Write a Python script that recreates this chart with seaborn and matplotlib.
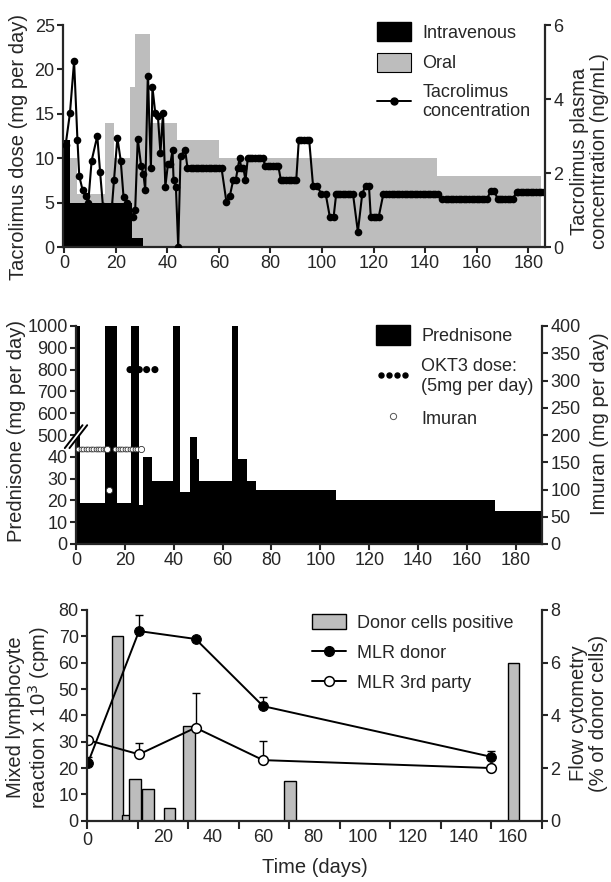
import numpy as np
import matplotlib
matplotlib.use("Agg")
import matplotlib.pyplot as plt
import seaborn as sns
from matplotlib.patches import Patch
from matplotlib.lines import Line2D
from matplotlib.legend_handler import HandlerLine2D

sns.set_style("ticks")
plt.rcParams['font.family'] = ['Liberation Sans', 'DejaVu Sans']
plt.rcParams['axes.linewidth'] = 1.6

# ---------------- Panel 1: tacrolimus ----------------
iv_start = [0.0, 2.2, 26.2]
iv_end = [2.2, 26.2, 30.4]
iv_dose = [12, 5, 1]

oral_start = [2.2, 4.8, 15.8, 19.3, 25.5, 27.5, 33.2, 43.6, 60.0, 144.5]
oral_end = [4.8, 15.8, 19.3, 25.5, 27.5, 33.2, 43.6, 60.0, 144.5, 185.0]
oral_dose = [10, 6, 14, 10, 18, 24, 14, 12, 10, 8]

conc_days = [0.5, 2.2, 3.8, 5.1, 5.8, 7.1, 8.3, 9.3, 10.6, 12.8, 13.9, 15.0, 18.5,
             19.3, 20.6, 21.9, 23.0, 24.5, 26.6, 27.5, 28.5, 29.8, 30.7, 31.4,
             32.4, 33.6, 34.2, 35.3, 36.3, 37.3, 38.3, 39.2, 40.2, 41.1, 42.0,
             42.4, 43.3, 44.2, 45.1, 46.9, 47.8,
             49, 50, 51, 52, 53, 54, 55, 56, 57, 58, 59, 60, 61,
             62.9, 64.2, 65.5, 66.5, 67.3, 68.0, 68.7, 69.5, 70.3, 71.2,
             72, 73, 74, 75, 76, 77, 78, 79, 80, 81, 82, 83,
             84, 85, 86, 87, 88, 89, 90, 91, 92, 93, 94, 95,
             96.5, 98.0, 99.7, 101.4, 103.0, 104.5, 105.5,
             106, 107, 108, 109, 110, 111, 112, 113.9, 115.6, 116.9, 118.2,
             118.9, 120, 121, 122, 123.8,
             125, 126, 127, 128, 129, 130, 131, 132, 133, 134, 135, 136, 137,
             138, 139, 140, 141, 142, 143, 144, 145,
             146.7, 148, 149, 150, 151, 152, 153, 154, 155, 156, 157, 158, 159,
             160, 161, 162, 163, 164, 165.5, 166.8, 168.1,
             169, 170, 171, 172, 173, 174, 175.6,
             176, 177, 178, 179, 180, 181, 182, 183, 184, 185, 186]
conc_vals = [2.75, 3.62, 5.02, 2.90, 1.92, 1.54, 1.37, 1.20, 2.33, 3.00, 2.02, 1.10, 1.10,
             1.82, 2.95, 2.33, 1.34, 1.20, 0.82, 1.00, 2.93, 2.20, 1.97, 1.54,
             4.63, 2.14, 4.32, 3.62, 3.55, 2.54, 3.62, 1.63, 2.23, 2.23, 2.62,
             1.80, 1.63, 0.00, 2.47, 2.62, 2.13,
             2.13, 2.13, 2.13, 2.13, 2.13, 2.13, 2.13, 2.13, 2.13, 2.13, 2.13, 2.13, 2.13,
             1.22, 1.37, 1.80, 1.80, 2.13, 2.40, 2.13, 2.13, 1.80, 2.40,
             2.40, 2.40, 2.40, 2.40, 2.40, 2.40, 2.20, 2.20, 2.20, 2.20, 2.20, 2.20,
             1.82, 1.82, 1.82, 1.82, 1.82, 1.82, 1.82, 2.90, 2.90, 2.90, 2.90, 2.90,
             1.66, 1.66, 1.44, 1.44, 0.82, 0.82, 1.44,
             1.44, 1.44, 1.44, 1.44, 1.44, 1.44, 1.44, 0.41, 1.44, 1.66, 1.66,
             0.82, 0.82, 0.82, 0.82, 1.44,
             1.44, 1.44, 1.44, 1.44, 1.44, 1.44, 1.44, 1.44, 1.44, 1.44, 1.44, 1.44, 1.44,
             1.44, 1.44, 1.44, 1.44, 1.44, 1.44, 1.44, 1.44,
             1.30, 1.30, 1.30, 1.30, 1.30, 1.30, 1.30, 1.30, 1.30, 1.30, 1.30, 1.30, 1.30,
             1.30, 1.30, 1.30, 1.30, 1.30, 1.52, 1.52, 1.30,
             1.30, 1.30, 1.30, 1.30, 1.30, 1.30, 1.50,
             1.50, 1.50, 1.50, 1.50, 1.50, 1.50, 1.50, 1.50, 1.50, 1.50, 1.50]

# ---------------- Panel 2: prednisone / OKT3 / imuran ----------------
pred_start = [0, 1.6, 11.9, 16.6, 22.5, 25.8, 27.5, 31.0, 39.8, 42.5, 46.6, 49.4,
              50.5, 63.7, 66.4, 70.1, 73.6, 106.5, 171.4]
pred_end = [1.6, 11.9, 16.6, 22.5, 25.8, 27.5, 31.0, 39.8, 42.5, 46.6, 49.4, 50.5,
            63.7, 66.4, 70.1, 73.6, 106.5, 171.4, 190.7]
pred_dose = [1000, 19, 1000, 19, 1000, 18, 40, 29, 1000, 24, 49, 39, 29, 1000,
             39, 29, 25, 20, 15]

okt3_days = [22.1, 24.1, 25.9, 28.9, 32.3]
okt3_level = [800, 800, 800, 800, 800]

imuran_days = [1, 2, 3, 4, 5, 6, 7, 8, 9, 10, 11, 12,
               16, 17, 18, 19, 20, 21, 22, 23, 24, 25]
imuran_mg = [175] * 22
imuran_big_days = [12.5, 26.6, 13.5]
imuran_big_mg = [175, 175, 100]

# ---------------- Panel 3: MLR / flow cytometry ----------------
flow_days = [1.7, 5.7, 8.7, 14.0, 22.6, 30.3, 70.8, 160.1]
flow_pct = [7.0, 0.2, 1.6, 1.2, 0.5, 3.6, 1.5, 6.0]

mlr_days = [-10.0, 10.4, 33.0, 60.0, 151.0]
mlr_donor = [22.0, 72.0, 69.0, 43.5, 24.3]
mlr_donor_err = [2.0, 6.0, 0.0, 3.5, 2.0]
mlr_third = [30.6, 25.2, 35.3, 23.0, 20.0]
mlr_third_err = [0.0, 4.2, 13.3, 7.3, 0.0]

GRAY = '#bdbdbd'
FS_TICK = 13
FS_LAB = 14.5
FS_LEG = 13

W, H = 611, 882
fig = plt.figure(figsize=(W / 100, H / 100), dpi=100)


def px_axes(l, r, t, b):
    return fig.add_axes([l / W, 1 - b / H, (r - l) / W, (b - t) / H])


def style_left(ax):
    ax.spines['top'].set_visible(False)
    ax.spines['right'].set_visible(False)
    ax.tick_params(direction='out', length=4, width=1.5, labelsize=FS_TICK, pad=2)


def style_right(axr):
    for s in ['top', 'left', 'bottom']:
        axr.spines[s].set_visible(False)
    axr.tick_params(direction='out', length=4, width=1.5, labelsize=FS_TICK, pad=2)


def place_ylabel(ax, x, y):
    ax.yaxis.set_label_coords(x, y)
    ax.yaxis.label.set_verticalalignment('center')
    ax.yaxis.label.set_horizontalalignment('center')


# ======== Panel 1 ========
ax1 = px_axes(63, 545, 25, 247)
ax1r = ax1.twinx()
ax1.bar(oral_start, oral_dose, width=np.subtract(oral_end, oral_start), align='edge',
        color=GRAY, linewidth=0)
ax1.bar(iv_start, iv_dose, width=np.subtract(iv_end, iv_start), align='edge',
        color='black', linewidth=0)
sns.lineplot(x=conc_days, y=conc_vals, ax=ax1r, color='black', linewidth=1.5,
             marker='o', markersize=5.5, markeredgewidth=0, estimator=None, sort=False)
ax1.set_xlim(-0.5, 186.5)
ax1.set_ylim(0, 25)
ax1.set_yticks([0, 5, 10, 15, 20, 25])
ax1.set_xticks(np.arange(0, 181, 20))
ax1r.set_ylim(0, 6)
ax1r.set_yticks([0, 2, 4, 6])
style_left(ax1)
style_right(ax1r)
ax1.set_ylabel('Tacrolimus dose (mg per day)', fontsize=FS_LAB)
place_ylabel(ax1, -0.093, 0.45)
ax1r.set_ylabel('Tacrolimus plasma\nconcentration (ng/mL)', fontsize=FS_LAB,
                rotation=90, linespacing=1.05)
place_ylabel(ax1r, 1.093, 0.43)

h1 = [Patch(facecolor='black', edgecolor='black'),
      Patch(facecolor=GRAY, edgecolor='black', linewidth=0.8),
      Line2D([], [], color='black', lw=1.4, marker='o', markersize=5)]
ax1r.legend(h1, ['Intravenous', 'Oral', 'Tacrolimus\nconcentration'],
            loc='upper left', bbox_to_anchor=(377 / W, 1 - 22 / H),
            bbox_transform=fig.transFigure, frameon=False, fontsize=FS_LEG,
            borderpad=0, borderaxespad=0, handlelength=1.9, handleheight=1.25,
            handletextpad=0.6, labelspacing=0.62)

# ======== Panel 2 ========
ax2 = px_axes(76, 542, 326, 544)
ax2r = ax2.twinx()


def fwd(v):
    v = np.asarray(v, dtype=float)
    return np.where(v <= 50, v / 10.0, np.where(v < 500, 5.0, 5.0 + (v - 500) / 100.0))


def inv(p):
    p = np.asarray(p, dtype=float)
    return np.where(p <= 5, p * 10.0, 500.0 + (p - 5) * 100.0)


ax2.set_yscale('function', functions=(fwd, inv))
ax2.bar(pred_start, pred_dose, width=np.subtract(pred_end, pred_start), align='edge',
        color='black', linewidth=0)
sns.scatterplot(x=okt3_days, y=okt3_level, ax=ax2, color='black', s=26,
                edgecolor='none', zorder=5)
ax2.set_xlim(0, 190.7)
ax2.set_ylim(0, 1000)
yt = [0, 10, 20, 30, 40, 500, 600, 700, 800, 900, 1000]
ax2.set_yticks(yt)
ax2.set_yticklabels([str(v) for v in yt])
ax2.yaxis.set_minor_locator(matplotlib.ticker.NullLocator())
ax2.set_xticks(np.arange(0, 181, 20))
sns.scatterplot(x=imuran_days, y=imuran_mg, ax=ax2r, color='white', s=12,
                edgecolor='#333333', linewidth=0.6, zorder=5)
sns.scatterplot(x=imuran_big_days, y=imuran_big_mg, ax=ax2r, color='white', s=20,
                edgecolor='#333333', linewidth=0.6, zorder=6)
ax2r.set_ylim(0, 400)
ax2r.set_yticks(np.arange(0, 401, 50))
style_left(ax2)
style_right(ax2r)
ax2.set_ylabel('Prednisone (mg per day)', fontsize=FS_LAB)
place_ylabel(ax2, -0.127, 0.52)
ax2r.set_ylabel('Imuran (mg per day)', fontsize=FS_LAB, rotation=90)
place_ylabel(ax2r, 1.124, 0.55)

# axis break marks
for dx in (0.0, 0.010):
    ax2.plot([-0.024 + dx, 0.014 + dx], [0.44, 0.545], transform=ax2.transAxes,
             color='black', lw=1.4, clip_on=False, zorder=10)
ax2.plot([-0.019, 0.019], [0.44, 0.545], transform=ax2.transAxes,
         color='white', lw=2.4, clip_on=False, zorder=9)

okt3_handle = Line2D([], [], ls='none', marker='o', markersize=3.6, color='black')
imu_handle = Line2D([], [], ls='none', marker='o', markersize=4.5,
                    markerfacecolor='white', markeredgecolor='#555555', markeredgewidth=0.7)
ax2r.legend([Patch(facecolor='black', edgecolor='black'), okt3_handle, imu_handle],
            ['Prednisone', 'OKT3 dose:\n(5mg per day)', 'Imuran'],
            handler_map={okt3_handle: HandlerLine2D(numpoints=4),
                         imu_handle: HandlerLine2D(numpoints=1)},
            loc='upper left', bbox_to_anchor=(376 / W, 1 - 325 / H),
            bbox_transform=fig.transFigure, frameon=False, fontsize=FS_LEG,
            borderpad=0, borderaxespad=0, handlelength=1.9, handleheight=1.35,
            handletextpad=0.6, labelspacing=0.72)

# ======== Panel 3 ========
ax3 = px_axes(87, 542, 610, 820.7)
ax3r = ax3.twinx()
ax3r.bar(flow_days, flow_pct, width=4.6, color=GRAY, edgecolor='black', linewidth=1.0)
ax3.set_zorder(ax3r.get_zorder() + 1)
ax3.patch.set_visible(False)

d = np.array(mlr_days)
for vals, errs in ((mlr_donor, mlr_donor_err), (mlr_third, mlr_third_err)):
    e = np.array(errs)
    m = e > 0
    ax3.errorbar(d[m], np.array(vals)[m], yerr=[np.zeros(m.sum()), e[m]], fmt='none',
                 ecolor='black', elinewidth=1.0, capsize=3, capthick=1.0, zorder=1.5)
sns.lineplot(x=mlr_days, y=mlr_donor, ax=ax3, color='black', linewidth=1.4,
             marker='o', markersize=7, markeredgecolor='black', estimator=None, sort=False)
sns.lineplot(x=mlr_days, y=mlr_third, ax=ax3, color='black', linewidth=1.4,
             marker='o', markersize=7, markerfacecolor='white', markeredgecolor='black',
             markeredgewidth=1.1, estimator=None, sort=False)
ax3.set_xlim(-10.4, 171.5)
ax3.set_ylim(0, 80)
ax3.set_yticks(np.arange(0, 81, 10))
major = np.arange(-10.4, 172, 20.2)
ax3.set_xticks(major)
ax3.set_xticklabels(['0'] + [''] * (len(major) - 1))
ax3.set_xticks(np.arange(20, 161, 20), minor=True)
ax3.set_xticklabels([str(v) for v in range(20, 161, 20)], minor=True)
ax3r.set_ylim(0, 8)
ax3r.set_yticks([0, 2, 4, 6, 8])
style_left(ax3)
ax3.tick_params(axis='x', which='major', length=6)
ax3.tick_params(axis='x', which='minor', length=0, labelsize=FS_TICK, pad=6)
style_right(ax3r)
ax3.set_ylabel('Mixed lymphocyte\nreaction x 10$^3$ (cpm)', fontsize=FS_LAB, linespacing=1.05)
place_ylabel(ax3, -0.127, 0.49)
ax3r.set_ylabel('Flow cytometry\n(% of donor cells)', fontsize=FS_LAB, rotation=90,
                linespacing=1.05)
place_ylabel(ax3r, 1.103, 0.51)
ax3.set_xlabel('Time (days)', fontsize=FS_LAB)
ax3.xaxis.set_label_coords(0.5, -0.22)
ax3.xaxis.label.set_verticalalignment('center')

h3 = [Patch(facecolor=GRAY, edgecolor='black', linewidth=1.0),
      Line2D([], [], color='black', lw=1.4, marker='o', markersize=7),
      Line2D([], [], color='black', lw=1.4, marker='o', markersize=7,
             markerfacecolor='white', markeredgewidth=1.1)]
ax3.legend(h3, ['Donor cells positive', 'MLR donor', 'MLR 3rd party'],
           loc='upper left', bbox_to_anchor=(312 / W, 1 - 614 / H),
           bbox_transform=fig.transFigure, frameon=False, fontsize=FS_LEG,
           borderpad=0, borderaxespad=0, handlelength=1.9, handleheight=0.9,
           handletextpad=0.6, labelspacing=0.68)

fig.savefig('out.png', dpi=100)
